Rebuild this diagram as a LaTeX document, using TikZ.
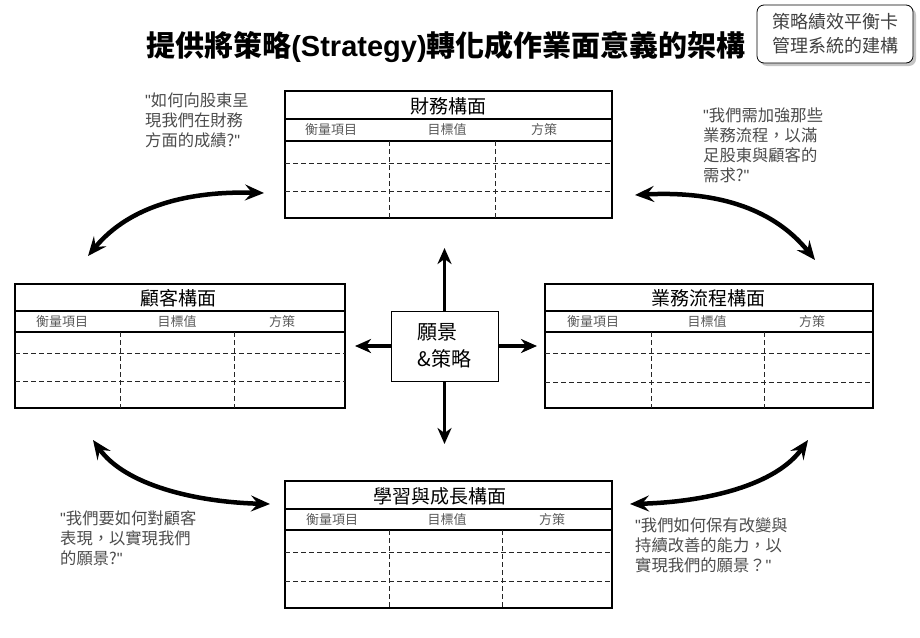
\documentclass[tikz,border=0pt]{standalone}
\usepackage{fontspec}
\setmainfont{Noto Sans CJK TC}
\newfontfamily\latinbf{Liberation Sans}
\newfontfamily\latq{Liberation Sans}
\newcommand\qm{{\latq"}}
\usetikzlibrary{arrows.meta,shadows}
\begin{document}
\begin{tikzpicture}[x=1pt,y=-1pt,
  panel/.style={draw=black, line width=1.2pt, inner sep=0pt},
  ptitle/.style={font=\fontsize{19}{19}\selectfont, inner sep=0pt},
  hdr/.style={font=\fontsize{13}{13}\selectfont, text=black!65, inner sep=0pt},
  sline/.style={line width=1.2pt},
  dline/.style={line width=1pt, dash pattern=on 5pt off 3pt, draw=black!85},
  quote/.style={font=\fontsize{16.3}{20}\selectfont, text=black!70, align=left, anchor=west, inner sep=0pt},
  bigarrow/.style={line width=3.5pt, -{Stealth[length=16pt,width=14pt,inset=5pt]}},
  curvearrow/.style={line width=4.5pt, {Stealth[length=19pt,width=16pt,inset=7pt]}-{Stealth[length=19pt,width=16pt,inset=7pt]}}
]
\useasboundingbox (0,0) rectangle (920,637);

% title
\node[font=\fontsize{29}{29}\selectfont\bfseries, inner sep=0pt] (title) at (446,47) {提供將策略{\latinbf\bfseries(Strategy)}轉化成作業面意義的架構};

% badge
\node[draw=black, line width=0.8pt, rounded corners=7pt, fill=white,
  drop shadow={shadow xshift=3pt, shadow yshift=-3pt, fill=black!45},
  minimum width=156pt, minimum height=58pt, align=center,
  font=\fontsize{18}{24}\selectfont, text=black!75] (badge) at (835,34) {策略績效平衡卡\\管理系統的建構};

% ---------- financial panel ----------
\node[panel, minimum width=327pt, minimum height=127pt] (fin) at (448.5,154.5) {};
\node[ptitle] (finT) at (448.5,106) {財務構面};
\draw[sline] (285,119) -- (612,119);
\draw[sline] (285,141) -- (612,141);
\draw[dline] (285,163) -- (612,163);
\draw[dline] (285,191) -- (612,191);
\draw[dline] (389,141) -- (389,218);
\draw[dline] (495,141) -- (495,218);
\node[hdr] (finH1) at (331,130) {衡量項目};
\node[hdr] (finH2) at (447,130) {目標值};
\node[hdr] (finH3) at (544,130) {方策};

% ---------- customer panel ----------
\node[panel, minimum width=330pt, minimum height=124pt] (cus) at (180,346) {};
\node[ptitle] (cusT) at (178,298) {顧客構面};
\draw[sline] (15,311) -- (345,311);
\draw[sline] (15,332) -- (345,332);
\draw[dline] (15,353) -- (345,353);
\draw[dline] (15,381) -- (345,381);
\draw[dline] (120,332) -- (120,408);
\draw[dline] (234,332) -- (234,408);
\node[hdr] (cusH1) at (62,322) {衡量項目};
\node[hdr] (cusH2) at (177,322) {目標值};
\node[hdr] (cusH3) at (282,322) {方策};

% ---------- process panel ----------
\node[panel, minimum width=328pt, minimum height=124pt] (pro) at (709,346) {};
\node[ptitle] (proT) at (708,298) {業務流程構面};
\draw[sline] (545,311) -- (873,311);
\draw[sline] (545,332) -- (873,332);
\draw[dline] (545,353) -- (873,353);
\draw[dline] (545,382) -- (873,382);
\draw[dline] (651,332) -- (651,408);
\draw[dline] (764,332) -- (764,408);
\node[hdr] (proH1) at (593,322) {衡量項目};
\node[hdr] (proH2) at (707,322) {目標值};
\node[hdr] (proH3) at (812,322) {方策};

% ---------- learning panel ----------
\node[panel, minimum width=327pt, minimum height=127pt] (lrn) at (448.5,544.5) {};
\node[ptitle] (lrnT) at (440,496) {學習與成長構面};
\draw[sline] (285,509) -- (612,509);
\draw[sline] (285,530) -- (612,530);
\draw[dline] (285,552) -- (612,552);
\draw[dline] (285,581) -- (612,581);
\draw[dline] (389,530) -- (389,608);
\draw[dline] (502,530) -- (502,608);
\node[hdr] (lrnH1) at (332,520) {衡量項目};
\node[hdr] (lrnH2) at (447,520) {目標值};
\node[hdr] (lrnH3) at (552,520) {方策};

% ---------- center ----------
\node[draw=black, line width=0.9pt, minimum width=107pt, minimum height=70pt,
  font=\fontsize{20}{27}\selectfont, align=left] (vis) at (444.5,346) {願景\\\&策略};
\coordinate (vu) at (444.5,248);
\coordinate (vd) at (444.5,444);
\coordinate (vl) at (355,346);
\coordinate (vr) at (537,346);
\draw[bigarrow] (vis.north) -- (vu);
\draw[bigarrow] (vis.south) -- (vd);
\draw[bigarrow] (vis.west) -- (vl);
\draw[bigarrow] (vis.east) -- (vr);

% ---------- curved arrows ----------
\coordinate (tl1) at (88,256);
\coordinate (tl2) at (264,193);
\draw[curvearrow] (tl1) .. controls (130,205) and (190,191) .. (tl2);
\coordinate (tr1) at (635,195);
\coordinate (tr2) at (815,260);
\draw[curvearrow] (tr1) .. controls (710,191) and (771,205) .. (tr2);
\coordinate (bl1) at (93,440);
\coordinate (bl2) at (270,504);
\draw[curvearrow] (bl1) .. controls (125,485) and (195,502) .. (bl2);
\coordinate (br1) at (630,504);
\coordinate (br2) at (808,440);
\draw[curvearrow] (br1) .. controls (707,502) and (776,485) .. (br2);

% ---------- quotes ----------
\node[quote] (q1) at (145,120) {\qm 如何向股東呈\\現我們在財務\\方面的成績?\qm};
\node[quote] (q2) at (703,145) {\qm 我們需加強那些\\業務流程，以滿\\足股東與顧客的\\需求?\qm};
\node[quote] (q3) at (60,538) {\qm 我們要如何對顧客\\表現，以實現我們\\的願景?\qm};
\node[quote] (q4) at (635,545) {\qm 我們如何保有改變與\\持續改善的能力，以\\實現我們的願景？\qm};
\end{tikzpicture}
\end{document}
